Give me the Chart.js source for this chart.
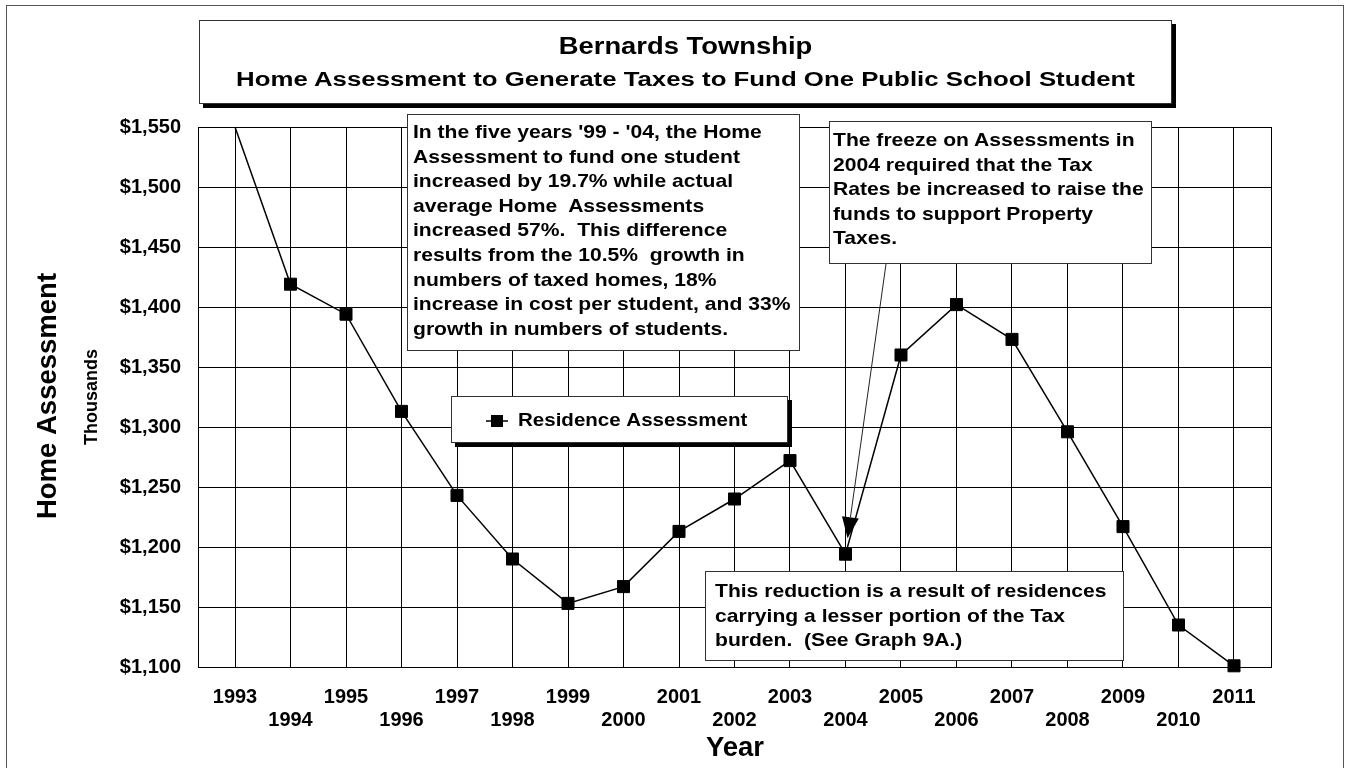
<!DOCTYPE html>
<html lang="en">
<head>
<meta charset="UTF-8">
<title>Bernards Township - Home Assessment per Student</title>
<script src="https://cdn.jsdelivr.net/npm/chart.js"></script>
<style>
  body { margin: 0; background: #fff; }
  #wrap { position: relative; width: 1349px; height: 768px; overflow: hidden; font-family: "Liberation Sans", Arial, sans-serif; font-weight: bold; color: #000; }
  .box { position: absolute; background: #fff; border: 1px solid #333; box-sizing: border-box; }
  .box span { display: block; white-space: pre; transform-origin: 0 0; }
  .note { font-size: 19px; line-height: 24.6px; }
  .note span { transform: scaleX(1.11); }
  #titleBox { left: 199px; top: 20px; width: 973px; height: 84px; box-shadow: 4px 4px 0 #000; }
  #titleBox span { position: absolute; left: 0; width: 100%; text-align: center; transform-origin: 50% 50%; }
  #t1 { top: 12px; font-size: 23px; transform: scaleX(1.19); }
  #t2 { top: 47px; font-size: 20px; transform: scaleX(1.29); }
  #note1 { left: 407px; top: 114px; width: 393px; height: 237px; padding: 5px 0 0 5px; }
  #note2 { left: 829px; top: 121px; width: 323px; height: 143px; padding: 6px 0 0 3px; }
  #note3 { left: 705px; top: 571px; width: 419px; height: 90px; padding: 7px 0 0 9px; }
</style>
</head>
<body>
<div id="wrap">
  <canvas id="myChart" width="1349" height="768"></canvas>
  <div class="box" id="titleBox">
    <span id="t1">Bernards Township</span>
    <span id="t2">Home Assessment to Generate Taxes to Fund One Public School Student</span>
  </div>
  <div class="box note" id="note1"><span>In the five years '99 - '04, the Home
Assessment to fund one student
increased by 19.7% while actual
average Home  Assessments
increased 57%.  This difference
results from the 10.5%  growth in
numbers of taxed homes, 18%
increase in cost per student, and 33%
growth in numbers of students.</span></div>
  <div class="box note" id="note2"><span>The freeze on Assessments in
2004 required that the Tax
Rates be increased to raise the
funds to support Property
Taxes.</span></div>
  <div class="box note" id="note3"><span>This reduction is a result of residences
carrying a lesser portion of the Tax
burden.  (See Graph 9A.)</span></div>
</div>
<script>
// values (thousands of dollars)
const years = [1993, 1994, 1995, 1996, 1997, 1998, 1999, 2000, 2001, 2002,
               2003, 2004, 2005, 2006, 2007, 2008, 2009, 2010, 2011];
const assessment = [1550, 1419, 1394, 1313, 1243, 1190, 1153, 1167, 1213, 1240,
                    1272, 1194, 1360, 1402, 1373, 1296, 1217, 1135, 1101];
const yTicks = [1100, 1150, 1200, 1250, 1300, 1350, 1400, 1450, 1500, 1550];
const seriesLabel = 'Residence Assessment';
const freezeYear = 2004;

const FONT = '"Liberation Sans", Arial, sans-serif';

// frame, plot border, axis titles, legend box and the arrow
const extras = {
    id: 'extras',
    beforeDraw(chart) {
        const c = chart.ctx;
        c.save();
        c.strokeStyle = '#555';
        c.lineWidth = 1;
        c.strokeRect(6.5, 5.5, 1337, 800);
        c.restore();
    },
    beforeDatasetsDraw(chart) {
        const c = chart.ctx, a = chart.chartArea;
        c.save();
        c.strokeStyle = '#000';
        c.lineWidth = 1;
        c.strokeRect(Math.round(a.left) + 0.5, Math.round(a.top) + 0.5,
                     Math.round(a.right - a.left), Math.round(a.bottom - a.top));
        c.restore();
    },
    afterDraw(chart) {
        const c = chart.ctx;
        c.save();
        c.fillStyle = '#000';
        c.textAlign = 'center';
        c.textBaseline = 'middle';

        c.font = 'bold 27.5px ' + FONT;
        c.save();
        c.translate(48, 396);
        c.rotate(-Math.PI / 2);
        c.fillText('Home Assessment', 0, 0);
        c.restore();

        c.font = 'bold 18px ' + FONT;
        c.save();
        c.translate(92, 397);
        c.rotate(-Math.PI / 2);
        c.fillText('Thousands', 0, 0);
        c.restore();

        c.font = 'bold 27.5px ' + FONT;
        c.fillText('Year', 735, 748);

        // legend
        c.fillRect(455, 400, 337, 47);
        c.fillStyle = '#fff';
        c.fillRect(451, 396, 337, 47);
        c.strokeStyle = '#333';
        c.lineWidth = 1;
        c.strokeRect(451.5, 396.5, 336, 46);
        c.strokeStyle = '#000';
        c.lineWidth = 1.5;
        c.beginPath();
        c.moveTo(486, 421);
        c.lineTo(508, 421);
        c.stroke();
        c.fillStyle = '#000';
        c.fillRect(491, 415, 12, 12);
        c.textAlign = 'left';
        c.font = 'bold 19px ' + FONT;
        c.save();
        c.translate(518, 421);
        c.scale(1.08, 1);
        c.fillText(chart.data.datasets[0].label, 0, 0);
        c.restore();

        // arrow from the freeze note to the 2004 point
        const xs = chart.scales.x, ys = chart.scales.y;
        const i = years.indexOf(freezeYear);
        const tx = xs.getPixelForValue(freezeYear) + 2;
        const ty = ys.getPixelForValue(assessment[i]) - 16;
        const sx = 886, sy = 264;
        const ang = Math.atan2(ty - sy, tx - sx);
        const len = 21, half = 8.5;
        const bx = tx - len * Math.cos(ang), by = ty - len * Math.sin(ang);
        c.strokeStyle = '#222';
        c.lineWidth = 1;
        c.beginPath();
        c.moveTo(sx, sy);
        c.lineTo(bx, by);
        c.stroke();
        c.beginPath();
        c.moveTo(tx, ty);
        c.lineTo(bx + half * Math.sin(ang), by - half * Math.cos(ang));
        c.lineTo(bx - half * Math.sin(ang), by + half * Math.cos(ang));
        c.closePath();
        c.fill();
        c.restore();
    }
};

const ctx = document.getElementById('myChart').getContext('2d');
new Chart(ctx, {
    type: 'line',
    data: {
        datasets: [{
            label: seriesLabel,
            data: years.map((yr, i) => ({ x: yr, y: assessment[i] })),
            borderColor: '#000',
            backgroundColor: '#000',
            borderWidth: 1.5,
            pointStyle: 'rect',
            pointRadius: c => c.dataIndex === 0 ? 0 : 8.5,
            pointBorderWidth: 1,
            pointBorderColor: '#000',
            pointBackgroundColor: '#000',
            tension: 0,
            clip: false
        }]
    },
    options: {
        responsive: false,
        animation: false,
        events: [],
        layout: { padding: { top: 127, right: 78, left: 0, bottom: 0 }, autoPadding: false },
        plugins: { legend: { display: false }, tooltip: { enabled: false } },
        scales: {
            x: {
                type: 'linear',
                min: years[0] - 2 / 3,
                max: years[years.length - 1] + 2 / 3,
                afterBuildTicks: s => { s.ticks = years.map(v => ({ value: v })); },
                afterFit: s => { s.height = 101; },
                grid: { color: '#000', lineWidth: 1, drawTicks: false },
                border: { color: '#000', width: 1 },
                ticks: {
                    autoSkip: false,
                    maxRotation: 0,
                    padding: 19,
                    color: '#000',
                    font: { family: FONT, size: 20, weight: 'bold', lineHeight: '23px' },
                    callback: v => v % 2 ? String(v) : ['', String(v)]
                }
            },
            y: {
                min: yTicks[0],
                max: yTicks[yTicks.length - 1],
                afterBuildTicks: s => { s.ticks = yTicks.map(v => ({ value: v })); },
                afterFit: s => { s.width = 198; },
                grid: { color: '#000', lineWidth: 1, drawTicks: false },
                border: { color: '#000', width: 1 },
                ticks: {
                    padding: 17,
                    color: '#000',
                    font: { family: FONT, size: 20, weight: 'bold' },
                    callback: v => '$' + v.toLocaleString('en-US')
                }
            }
        }
    },
    plugins: [extras]
});
</script>
</body>
</html>
